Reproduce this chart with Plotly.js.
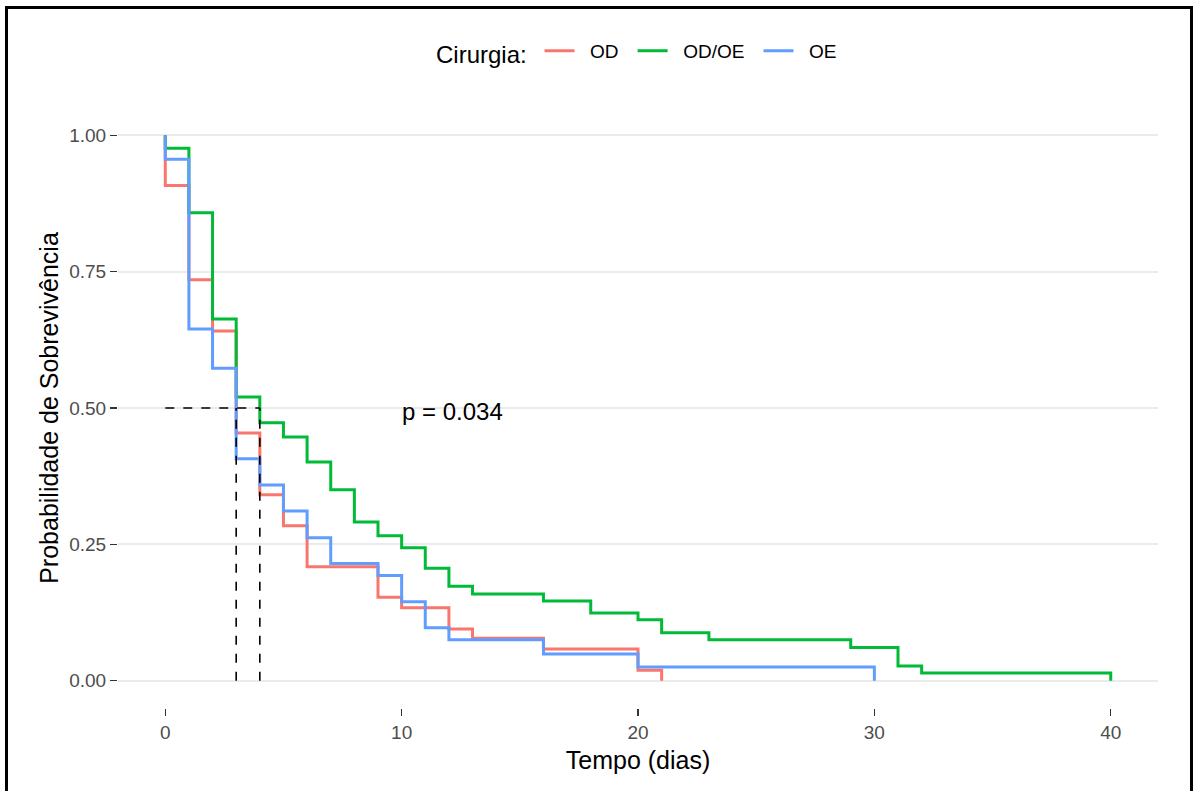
<!DOCTYPE html>
<html>
<head>
<meta charset="utf-8">
<script src="https://cdn.plot.ly/plotly-3.0.1.min.js"></script>
<style>
  html, body { margin: 0; padding: 0; background: #fff; }
  #wrap { position: relative; width: 1193px; height: 791px; overflow: hidden; }
  #chart { width: 1193px; height: 791px; }
  #frame { position: absolute; left: 5px; top: 6px; width: 1182px; height: 800px;
           border: 3px solid #000; border-bottom: none; pointer-events: none; }
</style>
</head>
<body>
<div id="wrap">
  <div id="chart"></div>
  <div id="frame"></div>
</div>
<script>
// Kaplan-Meier step data
const groupNames = ["OD", "OD/OE", "OE"];
const timeOD   = [0, 0, 1, 2, 3, 4, 5, 6, 9, 10, 12, 13, 16, 20, 21];
const survOD   = [1, 0.908, 0.735, 0.641, 0.454, 0.341, 0.284, 0.209, 0.153, 0.134, 0.095, 0.078, 0.058, 0.019, 0];
const timeODOE = [0, 0, 1, 2, 3, 4, 5, 6, 7, 8, 9, 10, 11, 12, 13, 16, 18, 20, 21, 23, 29, 31, 32, 40];
const survODOE = [1, 0.976, 0.858, 0.663, 0.520, 0.473, 0.447, 0.401, 0.350, 0.291, 0.266, 0.244, 0.206, 0.173, 0.159, 0.146, 0.124, 0.112, 0.088, 0.075, 0.061, 0.027, 0.014, 0];
const timeOE   = [0, 0, 1, 2, 3, 4, 5, 6, 7, 9, 10, 11, 12, 16, 20, 30];
const survOE   = [1, 0.956, 0.645, 0.573, 0.407, 0.359, 0.311, 0.262, 0.215, 0.193, 0.145, 0.097, 0.075, 0.049, 0.025, 0];
const medianTimes = [3, 4];
const medianLevel = 0.5;
const pText = "p = 0.034";
const pPos = [10, 0.5];
const xTicks = [0, 10, 20, 30, 40];
const yTicks = [0, 0.25, 0.5, 0.75, 1];
const yTickText = ["0.00", "0.25", "0.50", "0.75", "1.00"];

const colors = ["#F8766D", "#00BA38", "#619CFF"];
const times = [timeOD, timeODOE, timeOE];
const survs = [survOD, survODOE, survOE];
const lead = "\u00a0\u00a0";
const trail = "\u00a0\u2009";

const traces = groupNames.map((g, i) => ({
  type: "scatter", mode: "lines",
  name: lead + g + (i < groupNames.length - 1 ? trail : ""),
  x: times[i], y: survs[i],
  line: { shape: "hv", color: colors[i], width: 3 },
  hoverinfo: "x+y+name"
}));

// median lines (dashed)
const maxMed = Math.max(...medianTimes);
traces.push({
  type: "scatter", mode: "lines", showlegend: false, hoverinfo: "skip",
  x: [0, maxMed], y: [medianLevel, medianLevel],
  line: { color: "#000", width: 1.6, dash: "dash" }
});
medianTimes.forEach(t => {
  traces.push({
    type: "scatter", mode: "lines", showlegend: false, hoverinfo: "skip",
    x: [t, t], y: [0, medianLevel],
    line: { color: "#000", width: 1.6, dash: "dash" }
  });
});

const font = "Liberation Sans, Arial, sans-serif";
const layout = {
  width: 1193, height: 791,
  margin: { l: 118, r: 35, t: 108, b: 83 },
  paper_bgcolor: "#fff", plot_bgcolor: "#fff",
  font: { family: font, color: "#000" },
  showlegend: true,
  legend: {
    orientation: "h", x: 0.5, xanchor: "center", y: 1.092, yanchor: "middle",
    title: { text: "Cirurgia:\u2009", side: "left", font: { size: 24, family: font, color: "#000" } },
    font: { size: 19, family: font, color: "#000" },
    itemwidth: 30, tracegroupgap: 0, traceorder: "normal"
  },
  xaxis: {
    range: [-2, 42], tickvals: xTicks, ticktext: xTicks.map(String),
    showgrid: false, zeroline: false, showline: false,
    ticks: "outside", ticklen: 7, tickwidth: 1.5, tickcolor: "#333",
    tickfont: { size: 19, color: "#4D4D4D", family: font },
    title: { text: "Tempo (dias)", font: { size: 25, color: "#000", family: font }, standoff: 9 },
    automargin: false, fixedrange: true
  },
  yaxis: {
    range: [-0.05, 1.05], tickvals: yTicks, ticktext: yTickText,
    showgrid: true, gridcolor: "#EBEBEB", gridwidth: 2,
    zeroline: false, showline: false,
    ticks: "outside", ticklen: 7, tickwidth: 1.5, tickcolor: "#333",
    tickfont: { size: 19, color: "#4D4D4D", family: font },
    title: { text: "Probabilidade de Sobrevivência", font: { size: 25, color: "#000", family: font }, standoff: 3 },
    automargin: false, fixedrange: true
  },
  annotations: [{
    x: pPos[0], y: pPos[1], xref: "x", yref: "y",
    text: pText, showarrow: false, xanchor: "left", yanchor: "middle",
    font: { size: 24, color: "#000", family: font }, xshift: -2, yshift: -3
  }]
};

Plotly.newPlot("chart", traces, layout, { displayModeBar: false, staticPlot: true });
</script>
</body>
</html>
